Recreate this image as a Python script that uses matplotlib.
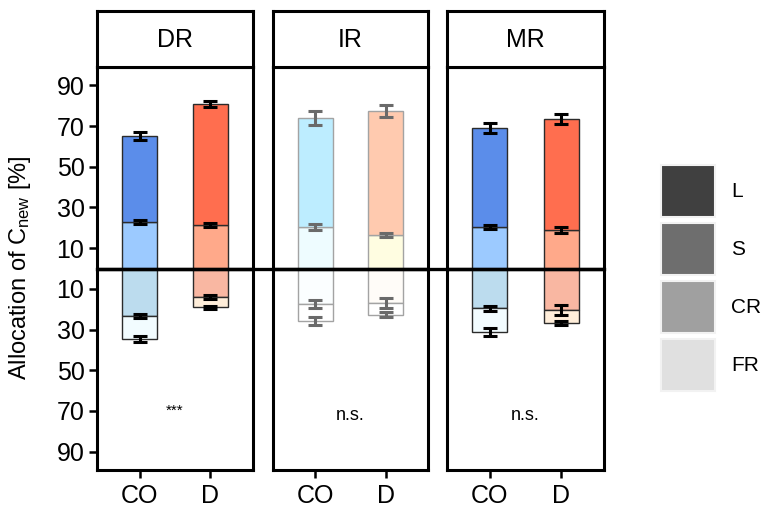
import matplotlib
matplotlib.use("Agg")
import matplotlib.pyplot as plt
import matplotlib.transforms as mtransforms
from matplotlib.lines import Line2D
from matplotlib.patches import Patch
import numpy as np

plt.rcParams['font.family'] = ['Liberation Sans', 'DejaVu Sans']
plt.rcParams['mathtext.fontset'] = 'custom'
plt.rcParams['mathtext.rm'] = 'Liberation Sans'
plt.rcParams['mathtext.it'] = 'Liberation Sans:italic'

# ---- data: share of new carbon per compartment (%), mean and SE ----
panels = ["DR", "IR", "MR"]
treatments = ["CO", "D"]
compartments = ["L", "S", "CR", "FR"]

# shoot compartments (plotted upwards)
leaf = {"DR": [42.5, 59.3], "IR": [53.8, 60.8], "MR": [48.6, 54.5]}
stem = {"DR": [22.8, 21.6], "IR": [20.3, 16.5], "MR": [20.3, 18.8]}
# root compartments (plotted downwards)
coarse_root = {"DR": [23.4, 13.9], "IR": [17.6, 16.8], "MR": [19.6, 20.4]}
fine_root = {"DR": [11.3, 5.2], "IR": [8.3, 5.9], "MR": [11.5, 6.3]}

leaf_se = {"DR": [2.0, 1.5], "IR": [3.5, 3.0], "MR": [2.5, 2.5]}
stem_se = {"DR": [1.0, 1.0], "IR": [1.5, 0.8], "MR": [1.0, 1.5]}
coarse_root_se = {"DR": [1.0, 1.0], "IR": [2.0, 2.5], "MR": [1.2, 2.5]}
fine_root_se = {"DR": [1.5, 0.8], "IR": [2.0, 1.2], "MR": [2.0, 1.0]}

significance = {"DR": "***", "IR": "n.s.", "MR": "n.s."}

# ---- colours ----
fill = {
    "DR": {"CO": ["#5B8DEA", "#9CCAFF", "#BCDCEE", "#F2FCFF"],
           "D":  ["#FF6E4F", "#FFA98A", "#F9B7A2", "#FFEEDA"]},
    "IR": {"CO": ["#BDEDFF", "#EEFCFF", "#FBFEFF", "#FFFFFF"],
           "D":  ["#FFCAAF", "#FFFDE1", "#FFFCF8", "#FFFFFF"]},
    "MR": {"CO": ["#5B8DEA", "#9CCAFF", "#BCDCEE", "#F2FCFF"],
           "D":  ["#FF6E4F", "#FFA98A", "#F9B7A2", "#FFEEDA"]},
}
edge = {"DR": "#2B2B2B", "IR": "#A3A3A3", "MR": "#2B2B2B"}
err_col = {"DR": "#000000", "IR": "#6A6A6A", "MR": "#000000"}
legend_grey = ["#404040", "#6E6E6E", "#A0A0A0", "#E0E0E0"]

W, H = 767, 511
fig = plt.figure(figsize=(W / 100, H / 100), dpi=100)

panel_px = {"DR": (97, 253), "IR": (273, 428), "MR": (447, 604)}
top_px, bot_px, strip_top_px = 67, 470, 11

x = np.arange(1, len(treatments) + 1)
bw = 0.49
axes = {}
for name in panels:
    l, r = panel_px[name]
    ax = fig.add_axes([l / W, 1 - bot_px / H, (r - l) / W, (bot_px - top_px) / H])
    axes[name] = ax
    lf = np.array(leaf[name]); st = np.array(stem[name])
    cr = np.array(coarse_root[name]); fr = np.array(fine_root[name])
    for i, trt in enumerate(treatments):
        cols = fill[name][trt]
        kw = dict(width=bw, edgecolor=edge[name], linewidth=1.0, zorder=2)
        ax.bar(x[i], st[i], bottom=0, color=cols[1], **kw)
        ax.bar(x[i], lf[i], bottom=st[i], color=cols[0], **kw)
        ax.bar(x[i], -cr[i], bottom=0, color=cols[2], **kw)
        ax.bar(x[i], -fr[i], bottom=-cr[i], color=cols[3], **kw)
    ekw = dict(fmt="none", ecolor=err_col[name], elinewidth=2.2,
               capsize=5, capthick=2.2, zorder=3)
    ax.errorbar(x, st, yerr=stem_se[name], **ekw)
    ax.errorbar(x, st + lf, yerr=leaf_se[name], **ekw)
    ax.errorbar(x, -cr, yerr=coarse_root_se[name], **ekw)
    ax.errorbar(x, -(cr + fr), yerr=fine_root_se[name], **ekw)
    ax.axhline(0, color="black", lw=2.4, zorder=4)

    ax.set_xlim(0.4, 2.6)
    ax.set_ylim(-99, 99)
    ax.set_xticks(x)
    ax.set_xticklabels(treatments, fontsize=18)
    ax.tick_params(axis="x", length=6, width=1.8, pad=4)
    for s in ax.spines.values():
        s.set_linewidth(2.2)
    if name == "DR":
        yt = [90, 70, 50, 30, 10, -10, -30, -50, -70, -90]
        ax.set_yticks(yt)
        ax.set_yticklabels([str(abs(v)) for v in yt], fontsize=18)
        ax.tick_params(axis="y", length=6, width=1.8, pad=3)
    else:
        ax.set_yticks([])
    if name == "DR":
        ax.text(1.5, -70, significance[name], ha="center", va="center", fontsize=11)
    else:
        ax.text(1.5, -72, significance[name], ha="center", va="center", fontsize=13)

    # facet strip
    sax = fig.add_axes([l / W, 1 - top_px / H, (r - l) / W, (top_px - strip_top_px) / H])
    sax.set_xticks([]); sax.set_yticks([])
    for s in sax.spines.values():
        s.set_linewidth(2.2)
    sax.text(0.5, 0.48, name, ha="center", va="center", fontsize=18,
             transform=sax.transAxes)

# zero line running across all facets
tr = mtransforms.blended_transform_factory(fig.transFigure, axes["DR"].transData)
fig.add_artist(Line2D([panel_px["DR"][0] / W, panel_px["MR"][1] / W], [0, 0],
                      transform=tr, color="black", lw=2.4, zorder=5))

fig.text(20 / W, 1 - 268 / H, r"Allocation of C$_{\mathrm{new}}$ [%]",
         rotation=90, ha="center", va="center", fontsize=17)

# legend: large grey keys (52 px tall, 6 px apart)
handles = [Patch(facecolor=c, edgecolor="#F2F2F2", linewidth=1.5) for c in legend_grey]
fs = 15
em = fs * 100 / 72
key_h, key_gap = 52, 6
hh = (key_h / em - 0.245) / 0.65
fig.legend(handles, compartments, loc="center left",
           bbox_to_anchor=(661 / W, 1 - 278 / H), frameon=False, fontsize=fs,
           handlelength=54 / em, handleheight=hh,
           labelspacing=key_gap / em, handletextpad=16 / em,
           borderpad=0, borderaxespad=0)

fig.savefig("out.png", dpi=100)
